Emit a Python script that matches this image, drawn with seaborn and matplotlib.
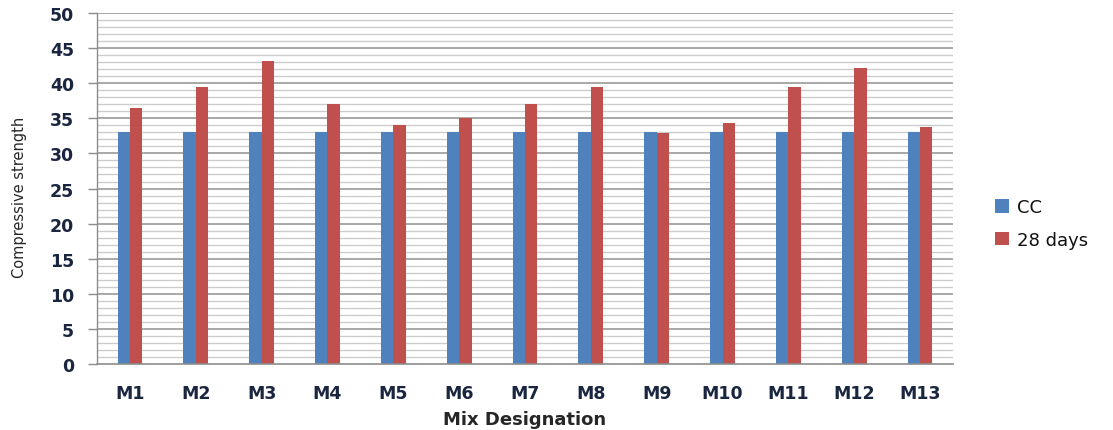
import matplotlib
matplotlib.use("Agg")
import matplotlib.pyplot as plt
from matplotlib.ticker import MultipleLocator
import seaborn as sns
import pandas as pd

mixes = ["M1", "M2", "M3", "M4", "M5", "M6", "M7", "M8", "M9", "M10", "M11", "M12", "M13"]
cc_strength = [33.1] * 13
day28_strength = [36.5, 39.5, 43.1, 37.0, 34.1, 35.1, 37.0, 39.5, 32.9, 34.4, 39.5, 42.1, 33.8]
series_names = ["CC", "28 days"]
y_ticks = list(range(0, 51, 5))

df = pd.DataFrame({
    "Mix": mixes * 2,
    "Series": [series_names[0]] * len(mixes) + [series_names[1]] * len(mixes),
    "Strength": cc_strength + day28_strength,
})

sns.set_theme(style="white")
plt.rcParams["font.family"] = ["DejaVu Sans"]

fig = plt.figure(figsize=(11.13, 4.31), dpi=100)
ax = fig.add_axes([0.0872, 0.153, 0.769, 0.8145])

sns.barplot(data=df, x="Mix", y="Strength", hue="Series", order=mixes,
            hue_order=series_names, palette=["#4F81BD", "#C0504D"],
            width=0.375, gap=0, saturation=1, errorbar=None, ax=ax,
            edgecolor="none", linewidth=0)

ax.set_ylim(0, 50)
ax.set_xlim(-0.5, len(mixes) - 0.5)
ax.set_yticks(y_ticks)
ax.yaxis.set_minor_locator(MultipleLocator(1))
ax.grid(False)
ax.set_axisbelow(True)
for v in range(1, 51):
    major = v % 5 == 0
    ax.axhline(v, color="#9a9a9a" if major else "#cccccc",
               linewidth=1.2 if major else 1.0, zorder=0)

for side in ["top", "right"]:
    ax.spines[side].set_visible(False)
ax.spines["left"].set_color("#8c8c8c")
ax.spines["bottom"].set_color("#8c8c8c")
ax.spines["left"].set_linewidth(1.0)
ax.spines["bottom"].set_linewidth(1.2)

ax.tick_params(axis="y", which="major", length=6.5, width=1.0, color="#8c8c8c",
               pad=10, labelsize=12.5, labelcolor="#1a2540", left=True)
ax.tick_params(axis="y", which="minor", length=0)
ax.tick_params(axis="x", length=0, pad=14, labelsize=12.5, labelcolor="#1a2540")
for lbl in ax.get_xticklabels() + ax.get_yticklabels():
    lbl.set_fontweight("semibold")

ax.set_xlabel("Mix Designation", fontsize=13, fontweight="bold", labelpad=6)
ax.set_ylabel("Compressive strength", fontsize=10.5)
ax.yaxis.set_label_coords(-0.082, 0.479)

leg = ax.legend(loc="center left", bbox_to_anchor=(1.03, 0.4), frameon=False,
                fontsize=13, handlelength=0.8, handleheight=0.8, handletextpad=0.4,
                labelspacing=0.8, title=None)
for t in leg.get_texts():
    t.set_color("#111111")

fig.savefig("out.png", dpi=100)
